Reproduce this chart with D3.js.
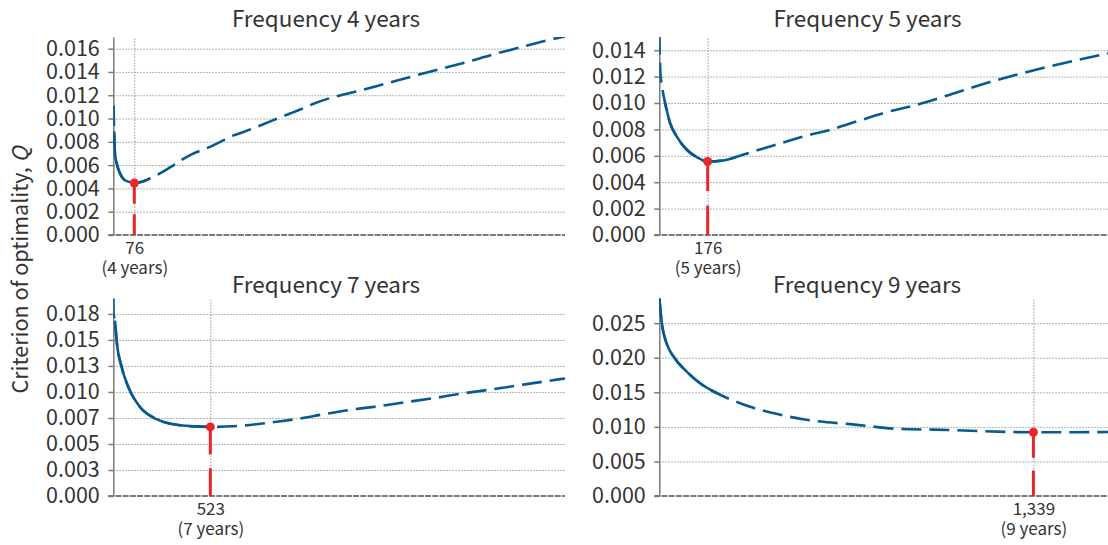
<!DOCTYPE html>
<html><head><meta charset="utf-8">
<script src="https://cdn.jsdelivr.net/npm/d3@7"></script>
<style>
body{margin:0;background:#fff;}
text{font-family:"Noto Sans CJK JP","Noto Sans",sans-serif;fill:#333;}
</style></head><body>
<svg id="chart" width="1108" height="545"></svg>
<script>
// ---------- data ----------
const titles = ["Frequency 4 years", "Frequency 5 years", "Frequency 7 years", "Frequency 9 years"];
const optX = [76, 176, 523, 1339];
const optLabels = ["76", "176", "523", "1,339"];
const optYears = ["(4 years)", "(5 years)", "(7 years)", "(9 years)"];
const optQ = [0.00446, 0.00557, 0.00664, 0.00922];
const xMax = [1635, 1632, 2435, 1606];
const yMax = [0.017, 0.015, 0.019, 0.0286];

const yTicks4 = [0, 0.002, 0.004, 0.006, 0.008, 0.010, 0.012, 0.014, 0.016];
const yLabels4 = ["0.000","0.002","0.004","0.006","0.008","0.010","0.012","0.014","0.016"];
const yTicks5 = [0, 0.002, 0.004, 0.006, 0.008, 0.010, 0.012, 0.014];
const yLabels5 = ["0.000","0.002","0.004","0.006","0.008","0.010","0.012","0.014"];
const yTicks7 = [0, 0.0025, 0.005, 0.0075, 0.010, 0.0125, 0.015, 0.0175];
const yLabels7 = ["0.000","0.003","0.005","0.007","0.010","0.013","0.015","0.018"];
const yTicks9 = [0, 0.005, 0.010, 0.015, 0.020, 0.025];
const yLabels9 = ["0.000","0.005","0.010","0.015","0.020","0.025"];

// series: x (interval) and Q values
const x4 = [1, 3, 4, 6, 14, 24, 42, 70, 76, 97, 133, 169, 205, 278, 314, 350, 380, 422, 471, 543, 579, 640, 676, 727, 791, 889, 987, 1084, 1180, 1279, 1373, 1470, 1569, 1635];
const q4 = [0.0111, 0.0089, 0.0081, 0.0070, 0.0060, 0.0053, 0.0047, 0.00448, 0.00446, 0.00452, 0.00486, 0.0053, 0.0058, 0.00686, 0.00723, 0.00757, 0.00791, 0.00843, 0.00885, 0.00951, 0.00986, 0.01043, 0.01077, 0.01129, 0.0118, 0.01237, 0.0130, 0.01363, 0.01423, 0.01485, 0.01549, 0.01609, 0.01671, 0.01705];
const x5 = [0, 4, 13, 21, 39, 63, 100, 136, 176, 233, 282, 330, 415, 524, 621, 718, 815, 924, 1057, 1191, 1288, 1421, 1518, 1632];
const q5 = [0.0152, 0.0123, 0.01086, 0.0100, 0.0085, 0.00747, 0.00646, 0.0059, 0.00557, 0.00565, 0.00592, 0.00625, 0.00678, 0.00747, 0.00797, 0.0086, 0.00924, 0.0098, 0.01063, 0.01152, 0.01208, 0.01278, 0.01324, 0.01375];
const x7 = [0, 1, 9, 18, 45, 81, 144, 234, 360, 523, 647, 827, 899, 989, 1132, 1285, 1438, 1581, 1734, 1878, 2030, 2183, 2336, 2435];
const q7 = [0.0190, 0.01765, 0.01686, 0.01494, 0.01239, 0.01047, 0.00855, 0.00738, 0.0068, 0.00664, 0.0067, 0.00702, 0.00718, 0.0074, 0.00785, 0.0083, 0.00865, 0.00903, 0.00942, 0.00984, 0.01022, 0.01063, 0.01104, 0.0113];
const x9 = [0, 9, 26, 56, 98, 146, 205, 259, 325, 408, 515, 623, 683, 861, 981, 1339, 1577, 1606];
const q9 = [0.0287, 0.0250, 0.0221, 0.0199, 0.0180, 0.0163, 0.0149, 0.0139, 0.0129, 0.0120, 0.0111, 0.0106, 0.0104, 0.0097, 0.0096, 0.00922, 0.00924, 0.00925];

// solid (computed) range of each curve; outside it the curve is dashed
const solidFrom = [3, 21, 9, 0];
const solidTo = [150, 285, 555, 217];

// ---------- build ----------
const series = [[x4, q4], [x5, q5], [x7, q7], [x9, q9]];
const yTicks = [yTicks4, yTicks5, yTicks7, yTicks9];
const yLabels = [yLabels4, yLabels5, yLabels7, yLabels9];

const layout = [
  {left: 113.3, top: 37, right: 565, bottom: 235, titleX: 326, titleY: 27},
  {left: 659.3, top: 37, right: 1108, bottom: 235, titleX: 867.5, titleY: 27},
  {left: 113.3, top: 298.3, right: 565, bottom: 496, titleX: 326, titleY: 293},
  {left: 659.3, top: 298.3, right: 1108, bottom: 496, titleX: 867, titleY: 293}
];

const BLUE = "#075a8d", RED = "#e8252b", GRID = "#9a9a9a", AXIS = "#7a7a7a";
const svg = d3.select("#chart");
const defs = svg.append("defs");

layout.forEach((L, i) => {
  const w = L.right - L.left, h = L.bottom - L.top;
  const x = d3.scaleLinear().domain([0, xMax[i]]).range([0, w]);
  const y = d3.scaleLinear().domain([0, yMax[i]]).range([h, 0]);
  const g = svg.append("g").attr("transform", `translate(${L.left},${L.top})`);

  // title
  svg.append("text").attr("x", L.titleX).attr("y", L.titleY)
    .attr("text-anchor", "middle").attr("font-size", 22.5).text(titles[i]);

  // horizontal gridlines (dotted)
  const grid = g.append("g").call(d3.axisLeft(y).tickValues(yTicks[i].filter(v => v > 0))
    .tickSize(-w).tickFormat(""));
  grid.select(".domain").remove();
  grid.selectAll(".tick line").attr("stroke", GRID).attr("stroke-width", 1)
    .attr("stroke-dasharray", "1.5,1.5");

  // vertical dotted line + x label at the optimum
  const gx = g.append("g").attr("transform", `translate(0,${h})`)
    .call(d3.axisBottom(x).tickValues([optX[i]]).tickSize(-h).tickSizeOuter(0).tickFormat(""));
  gx.select(".domain").remove();
  gx.selectAll(".tick line").attr("stroke", GRID).attr("stroke-width", 1)
    .attr("stroke-dasharray", "1.5,1.5");
  const lab = gx.selectAll(".tick").append("text").attr("text-anchor", "middle")
    .attr("font-size", 17).attr("fill", "#333");
  lab.append("tspan").attr("x", 0).attr("y", 19).text(optLabels[i]);
  lab.append("tspan").attr("x", 0).attr("y", 38.5).text(optYears[i]);

  // baseline
  g.append("line").attr("x1", -5).attr("x2", w).attr("y1", h).attr("y2", h)
    .attr("stroke", AXIS).attr("stroke-width", 2).attr("stroke-dasharray", "6,1.2");

  // y axis with ticks and labels
  const labs = yLabels[i], tv = yTicks[i];
  const gy = g.append("g").call(d3.axisLeft(y).tickValues(tv).tickSize(5).tickPadding(8.5)
    .tickSizeOuter(0).tickFormat(d => labs[tv.indexOf(d)]));
  gy.select(".domain").attr("stroke", AXIS).attr("stroke-width", 1.5);
  gy.selectAll(".tick line").attr("stroke", AXIS).attr("stroke-width", 1.5);
  gy.selectAll(".tick text").attr("font-size", 21.5).attr("fill", "#333")
    .style("font-family", '"Noto Sans CJK JP","Noto Sans",sans-serif');

  // clip
  const cid = "clip" + i;
  defs.append("clipPath").attr("id", cid).append("rect")
    .attr("x", 0).attr("y", 0).attr("width", w).attr("height", h);

  const pts = series[i][0].map((xv, k) => [xv, series[i][1][k]]);
  const line = d3.line().x(d => x(d[0])).y(d => y(d[1])).curve(d3.curveMonotoneX);
  const cg = g.append("g").attr("clip-path", `url(#${cid})`);
  cg.append("path").attr("d", line(pts)).attr("fill", "none").attr("stroke", BLUE)
    .attr("stroke-width", 2.6).attr("stroke-dasharray", "20,8");
  cg.append("path").attr("d", line(pts.filter(p => p[0] >= solidFrom[i] && p[0] <= solidTo[i])))
    .attr("fill", "none").attr("stroke", BLUE).attr("stroke-width", 2.6);

  // optimum marker
  const y0 = y(optQ[i]), len = h - y0;
  g.append("line").attr("x1", x(optX[i])).attr("x2", x(optX[i])).attr("y1", y0).attr("y2", h)
    .attr("stroke", RED).attr("stroke-width", 3)
    .attr("stroke-dasharray", `${len * 0.4},${len * 0.2}`);
  g.append("circle").attr("cx", x(optX[i])).attr("cy", y0).attr("r", 4.5).attr("fill", RED);
});

// y-axis title
const yt = svg.append("text").attr("transform", "translate(28,270) rotate(-90)")
  .attr("text-anchor", "middle").attr("font-size", 21.5);
yt.append("tspan").text("Criterion of optimality, ");
yt.append("tspan").attr("font-style", "italic").text("Q");
</script></body></html>
